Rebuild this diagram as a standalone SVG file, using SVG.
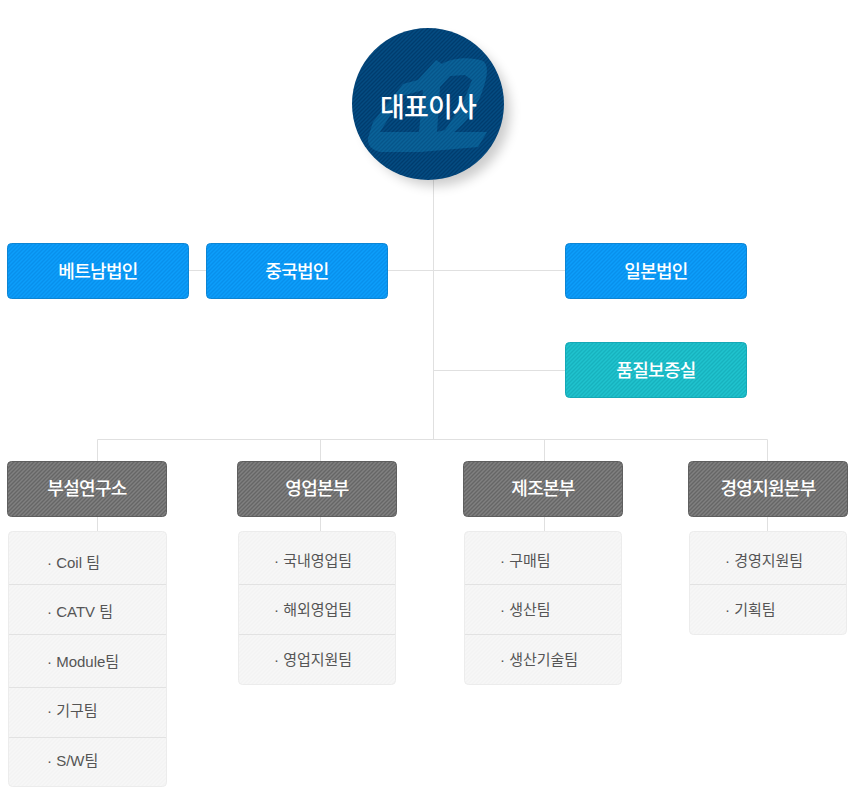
<svg xmlns="http://www.w3.org/2000/svg" width="863" height="812" viewBox="0 0 863 812">
<style>
text{font-family:"Liberation Sans","Noto Sans CJK KR",sans-serif}
.t{fill:#fff;font-size:18px;font-weight:500;text-anchor:middle;letter-spacing:-.7px;font-family:"Noto Sans CJK KR","Noto Sans",sans-serif}
.i{fill:#555;font-size:15px;font-weight:400;letter-spacing:0}
.c{stroke:#e0e0e0;stroke-width:1;fill:none}
.sep{stroke:#e2e2e2;stroke-width:1}
.list{fill:url(#pL);stroke:#ececec}
.d{stroke-width:1.400;fill:none}
</style>
<defs>
<pattern id="pC" width="4" height="4" patternUnits="userSpaceOnUse"><rect width="4" height="4" fill="#044c82"/><path class="d" stroke="#003c6e" d="M-1 1L1 -1M0 4L4 0M3 5L5 3"/></pattern>
<pattern id="pB" width="4" height="4" patternUnits="userSpaceOnUse"><rect width="4" height="4" fill="#0c9efb"/><path class="d" stroke="#0890ec" d="M-1 1L1 -1M0 4L4 0M3 5L5 3"/></pattern>
<pattern id="pT" width="4" height="4" patternUnits="userSpaceOnUse"><rect width="4" height="4" fill="#1fc3ce"/><path class="d" stroke="#17b2be" d="M-1 1L1 -1M0 4L4 0M3 5L5 3"/></pattern>
<pattern id="pG" width="4" height="4" patternUnits="userSpaceOnUse"><rect width="4" height="4" fill="#808080"/><path class="d" stroke="#666" d="M-1 1L1 -1M0 4L4 0M3 5L5 3"/></pattern>
<pattern id="pL" width="4" height="4" patternUnits="userSpaceOnUse"><rect width="4" height="4" fill="#f7f7f7"/><path class="d" stroke="#f3f3f3" d="M-1 1L1 -1M0 4L4 0M3 5L5 3"/></pattern>
<pattern id="pS" width="4" height="4" patternUnits="userSpaceOnUse"><rect width="4" height="4" fill="#0a6399"/><path class="d" stroke="#06558a" d="M-1 1L1 -1M0 4L4 0M3 5L5 3"/></pattern>
<filter id="sh" x="-30%" y="-30%" width="170%" height="170%"><feGaussianBlur stdDeviation="6"/></filter>
</defs>
<g id="connectors">
<path class="c" d="M433.500 180V439M189 270.500H206M388 270.500H565M433 370.500H565M97.500 439.500H767.500M97.500 439.500V461M320.500 439.500V461M544.500 439.500V461M767.500 439.500V461M97.500 517V531M320.500 517V531M544.500 517V531M767.500 517V531"/>
</g>
<g id="ceo">
<circle cx="436" cy="112" r="74" fill="#000" opacity=".2" filter="url(#sh)"/>
<circle cx="428" cy="104" r="76" fill="url(#pC)"/>
<path fill="url(#pS)" fill-rule="evenodd" d="M368 138L373 122L403 84L418 80L436 60L442 64C450 58 470 56 483 61C489 66 488 76 481 95C474 112 466 122 454 132L487 132L478 147L420 152L380 152C372 150 367 145 368 138ZM380 132L402 96L423 90L419 132ZM440 87L450 76L465 75L472 80L462 105L445 130L437 132Z"/>
<text x="428" y="117" class="t" style="font-size:27px;letter-spacing:-.8px">대표이사</text>
</g>
<g id="vietnam"><rect x="7.500" y="243.500" width="181" height="55" rx="4" fill="url(#pB)" stroke="#0c85d4"/><text x="98" y="277.500" class="t">베트남법인</text></g>
<g id="china"><rect x="206.500" y="243.500" width="181" height="55" rx="4" fill="url(#pB)" stroke="#0c85d4"/><text x="297" y="277.500" class="t">중국법인</text></g>
<g id="japan"><rect x="565.500" y="243.500" width="181" height="55" rx="4" fill="url(#pB)" stroke="#0c85d4"/><text x="656" y="277.500" class="t">일본법인</text></g>
<g id="qa"><rect x="565.500" y="342.500" width="181" height="55" rx="4" fill="url(#pT)" stroke="#14a8b6"/><text x="656" y="376.500" class="t">품질보증실</text></g>
<g id="lab"><rect x="7.500" y="461.500" width="159" height="55" rx="4" fill="url(#pG)" stroke="#5f5f5f"/><text x="87" y="495" class="t">부설연구소</text></g>
<g id="sales"><rect x="237.500" y="461.500" width="159" height="55" rx="4" fill="url(#pG)" stroke="#5f5f5f"/><text x="317" y="495" class="t">영업본부</text></g>
<g id="mfg"><rect x="463.500" y="461.500" width="159" height="55" rx="4" fill="url(#pG)" stroke="#5f5f5f"/><text x="543" y="495" class="t">제조본부</text></g>
<g id="mgmt"><rect x="688.500" y="461.500" width="159" height="55" rx="4" fill="url(#pG)" stroke="#5f5f5f"/><text x="768" y="495" class="t">경영지원본부</text></g>
<g id="lab-teams"><rect class="list" x="8.500" y="531.500" width="158" height="255" rx="4"/>
<path class="sep" d="M9 584.500H166M9 634.500H166M9 687.500H166M9 737.500H166"/>
<text x="47" y="568" class="i">· Coil 팀</text><text x="47" y="617" class="i">· CATV 팀</text><text x="47" y="667" class="i">· Module팀</text><text x="47" y="716" class="i">· 기구팀</text><text x="47" y="766" class="i">· S/W팀</text></g>
<g id="sales-teams"><rect class="list" x="238.500" y="531.500" width="157" height="153" rx="4"/>
<path class="sep" d="M239 584.500H395M239 634.500H395"/>
<text x="274" y="566" class="i">· 국내영업팀</text><text x="274" y="615" class="i">· 해외영업팀</text><text x="274" y="665" class="i">· 영업지원팀</text></g>
<g id="mfg-teams"><rect class="list" x="464.500" y="531.500" width="157" height="153" rx="4"/>
<path class="sep" d="M465 584.500H621M465 634.500H621"/>
<text x="500" y="566" class="i">· 구매팀</text><text x="500" y="615" class="i">· 생산팀</text><text x="500" y="665" class="i">· 생산기술팀</text></g>
<g id="mgmt-teams"><rect class="list" x="689.500" y="531.500" width="157" height="103" rx="4"/>
<path class="sep" d="M690 584.500H846"/>
<text x="725" y="566" class="i">· 경영지원팀</text><text x="725" y="615" class="i">· 기획팀</text></g>
</svg>
